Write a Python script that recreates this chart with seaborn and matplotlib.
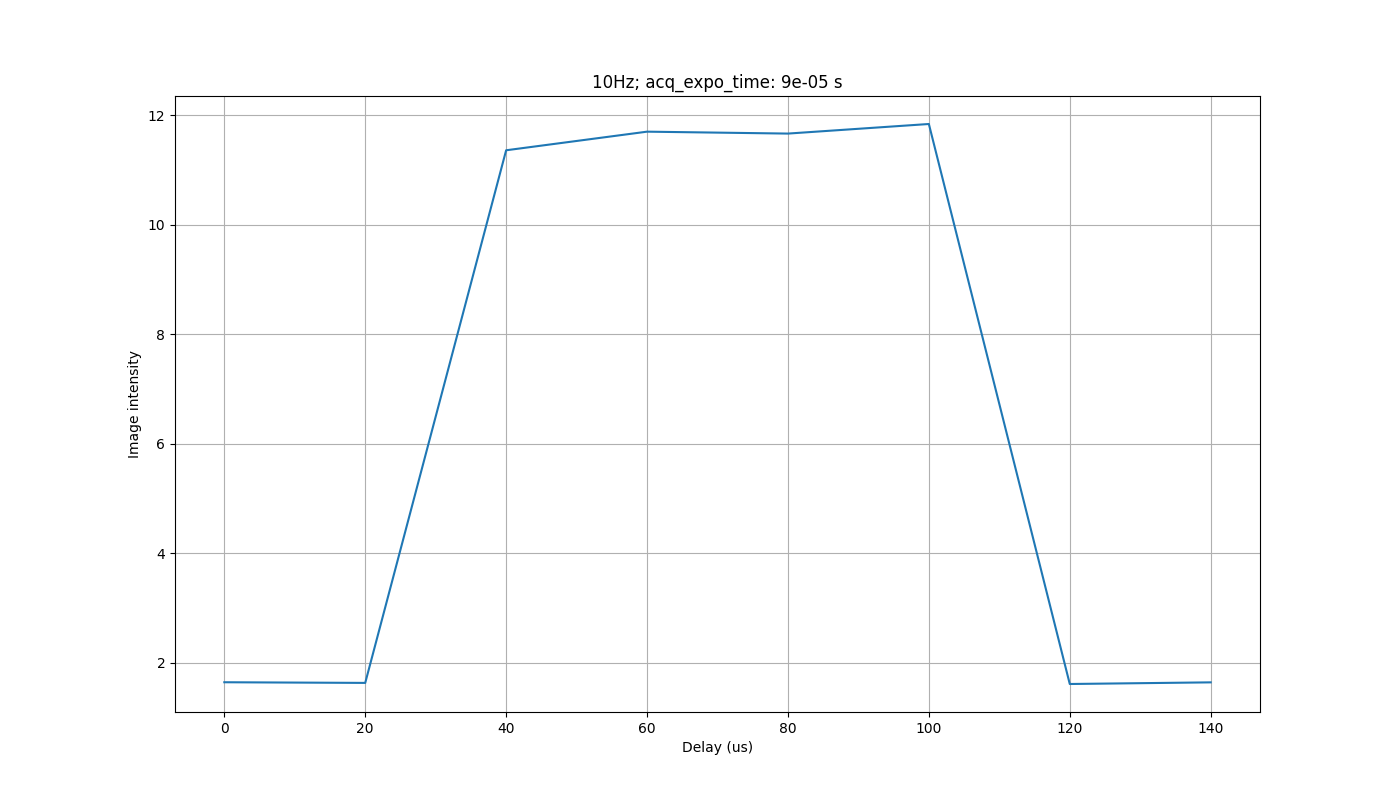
import pandas as pd
import matplotlib.pyplot as plt
import seaborn as sns

delays = [0, 20, 40, 60, 80, 100, 120, 140]
intensity = [1.642, 1.630, 11.36, 11.70, 11.665, 11.84, 1.61, 1.64]


def main():
    df = pd.DataFrame({"delay": delays, "intensity": intensity})

    fig, ax = plt.subplots(figsize=(14, 8), dpi=100)
    sns.lineplot(data=df, x="delay", y="intensity", ax=ax, color="#1f77b4")
    ax.set_title("10Hz; acq_expo_time: 9e-05 s")
    ax.set_xlabel("Delay (us)")
    ax.set_ylabel("Image intensity")
    ax.grid(True)
    fig.savefig("out.png")


if __name__ == "__main__":
    main()
